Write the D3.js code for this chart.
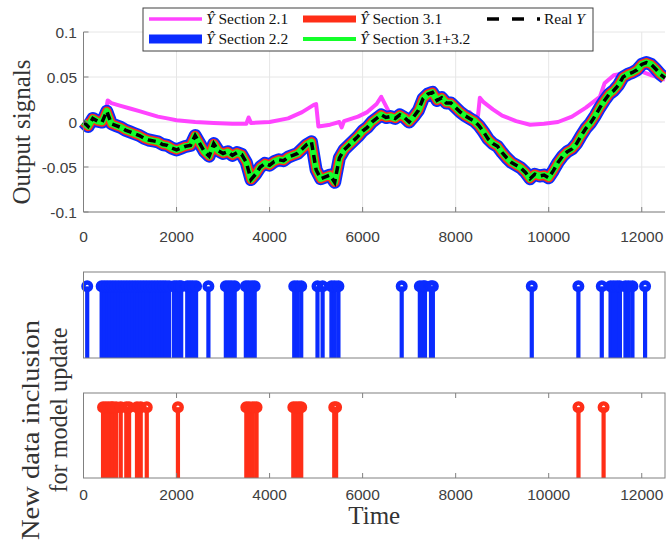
<!DOCTYPE html>
<html>
<head>
<meta charset="utf-8">
<script src="https://cdn.jsdelivr.net/npm/d3@7"></script>
<style>
  body { margin: 0; background: #fff; }
  text { font-family: "Liberation Sans", Arial, sans-serif; }
  .serif { font-family: "Liberation Serif", "Times New Roman", serif; }
</style>
</head>
<body>
<div id="chart"></div>
<script>
// sampled every 100 time units, 0 .. 12500
const STEP = 100;
const realY = [
  0.000, -0.005, 0.004, 0.001, 0.000, 0.012, -0.002, -0.004, -0.006, -0.009,
  -0.011, -0.013, -0.015, -0.018, -0.020, -0.021, -0.022, -0.025, -0.026, -0.029,
  -0.031, -0.029, -0.027, -0.026, -0.015, -0.024, -0.033, -0.038, -0.024, -0.032,
  -0.035, -0.033, -0.037, -0.034, -0.036, -0.045, -0.064, -0.058, -0.050, -0.046,
  -0.048, -0.044, -0.042, -0.043, -0.039, -0.037, -0.035, -0.030, -0.025, -0.022,
  -0.053, -0.063, -0.061, -0.059, -0.067, -0.040, -0.031, -0.026, -0.021, -0.016,
  -0.010, -0.006, 0.000, 0.004, 0.008, 0.005, 0.006, 0.004, 0.008, 0.005,
  0.000, 0.006, 0.013, 0.026, 0.031, 0.033, 0.024, 0.027, 0.021, 0.021,
  0.016, 0.011, 0.007, 0.004, 0.001, -0.004, -0.011, -0.019, -0.024, -0.027,
  -0.034, -0.040, -0.045, -0.048, -0.051, -0.056, -0.063, -0.058, -0.060, -0.059,
  -0.062, -0.054, -0.045, -0.038, -0.033, -0.030, -0.024, -0.015, -0.007, -0.001,
  0.007, 0.016, 0.024, 0.031, 0.035, 0.041, 0.050, 0.053, 0.055, 0.058,
  0.064, 0.066, 0.064, 0.059, 0.053, 0.049
];
// predictions of sections 2.2, 3.1 and 3.1+3.2 sit on top of the real output
const ySec22 = realY, ySec31 = realY, ySec3132 = realY;

// section 2.1 prediction (time, value)
const sec21T = [0, 200, 400, 480, 520, 600, 800, 1000, 1200, 1400, 1600, 1800, 2000, 2400, 2800,
  3200, 3500, 3550, 3600, 4000, 4400, 4700, 4950, 5000, 5050, 5300, 5500, 5550, 5600, 5900,
  6100, 6300, 6400, 6600, 6800, 7000, 7200, 7500, 7800, 8000, 8200, 8300, 8400, 8480, 8520, 8600,
  8800, 9000, 9300, 9600, 9900, 10200, 10500, 10800, 11100, 11200, 11400, 11700, 12000, 12200, 12500];
const sec21Y = [0.000, 0.004, 0.000, 0.012, 0.024, 0.021, 0.018, 0.015, 0.012, 0.009, 0.006, 0.004, 0.002, 0.000, -0.001,
  -0.002, -0.002, 0.005, -0.001, 0.000, 0.004, 0.011, 0.019, 0.020, -0.005, -0.003, 0.000, -0.006, 0.001, 0.006,
  0.011, 0.020, 0.028, 0.008, 0.008, 0.003, 0.012, 0.030, 0.020, 0.015, 0.009, 0.011, 0.005, 0.007, 0.027, 0.022,
  0.014, 0.007, 0.001, -0.003, -0.002, 0.000, 0.006, 0.016, 0.028, 0.043, 0.052, 0.055, 0.056, 0.052, 0.047];

// times where new data was included
const updates22 = [80, 390, 450, 510, 570, 630, 690, 750, 810, 870, 930, 990, 1050, 1110, 1170, 1230,
  1290, 1350, 1410, 1470, 1530, 1590, 1650, 1710, 1770, 1840, 1945, 2000, 2060, 2100,
  2230, 2290, 2350, 2420, 2685, 3060, 3120, 3180, 3250, 3490, 3550, 3620, 3680,
  4530, 4600, 4680, 5030, 5140, 5330, 5400, 5480, 6840, 7230, 7300, 7340, 7470, 7510,
  9636, 10638, 11141, 11330, 11400, 11470, 11530, 11650, 11720, 11800, 12072];
const updates31 = [420, 480, 540, 600, 630, 700, 800, 920, 980, 1150, 1230, 1360, 2030,
  3500, 3560, 3640, 3720, 4510, 4570, 4630, 4680, 5390, 5430, 10640, 11180];

const xTicks = [0, 2000, 4000, 6000, 8000, 10000, 12000];
const yTicks = [-0.1, -0.05, 0, 0.05, 0.1];
const legendItems = [
  { name: "Section 2.1", hat: true, color: "#ff44ff", w: 3.5 },
  { name: "Section 2.2", hat: true, color: "#0a2bff", w: 9 },
  { name: "Section 3.1", hat: true, color: "#ff2e17", w: 7 },
  { name: "Section 3.1+3.2", hat: true, color: "#14ff2a", w: 4 },
  { name: "Real ", hat: false, color: "#000", w: 3.5, dash: "12 13" }
];

const W = 666, H = 543;
const axisColor = "#808080", labelColor = "#404040", gridColor = "#e6e6e6";
const TICKFONT = 15.5;

const svg = d3.select("#chart").append("svg")
  .attr("width", W).attr("height", H);

const x = d3.scaleLinear().domain([0, 12500]).range([83.5, 665]);
const yTop = d3.scaleLinear().domain([-0.1, 0.1]).range([212, 32]);
const yMid = d3.scaleLinear().domain([0, 1.2]).range([358, 272]);
const yBot = d3.scaleLinear().domain([0, 1.2]).range([478, 393]);

// ---- top panel
const gTop = svg.append("g");
gTop.selectAll("line.vg").data(xTicks).join("line")
  .attr("x1", d => x(d)).attr("x2", d => x(d))
  .attr("y1", yTop(-0.1)).attr("y2", yTop(0.1))
  .attr("stroke", gridColor);
gTop.selectAll("line.hg").data(yTicks).join("line")
  .attr("x1", x(0)).attr("x2", x(12500))
  .attr("y1", d => yTop(d)).attr("y2", d => yTop(d))
  .attr("stroke", gridColor);

const lineReal = d3.line().x((d, i) => x(i * STEP)).y(d => yTop(d));
const line21 = d3.line().x((d, i) => x(sec21T[i])).y(d => yTop(d));

gTop.append("path").datum(sec21Y).attr("d", line21)
  .attr("fill", "none").attr("stroke", legendItems[0].color).attr("stroke-width", 4)
  .attr("stroke-linejoin", "round");
[[ySec22, 1, 13], [ySec31, 2, 9.5], [ySec3132, 3, 6.5]].forEach(([s, k, w]) => {
  gTop.append("path").datum(s).attr("d", lineReal)
    .attr("fill", "none").attr("stroke", legendItems[k].color).attr("stroke-width", w)
    .attr("stroke-linejoin", "round");
});
gTop.append("path").datum(realY).attr("d", lineReal)
  .attr("fill", "none").attr("stroke", "#000").attr("stroke-width", 3.5)
  .attr("stroke-dasharray", "8 5");

// axes
gTop.append("line").attr("x1", x(0)).attr("x2", x(0)).attr("y1", yTop(0.1)).attr("y2", yTop(-0.1))
  .attr("stroke", axisColor);
gTop.append("line").attr("x1", x(0)).attr("x2", x(12500)).attr("y1", yTop(-0.1)).attr("y2", yTop(-0.1))
  .attr("stroke", axisColor);
gTop.selectAll("line.xt").data(xTicks).join("line")
  .attr("x1", d => x(d)).attr("x2", d => x(d))
  .attr("y1", yTop(-0.1)).attr("y2", yTop(-0.1) - 5).attr("stroke", axisColor);
gTop.selectAll("line.yt").data(yTicks).join("line")
  .attr("x1", x(0)).attr("x2", x(0) + 5)
  .attr("y1", d => yTop(d)).attr("y2", d => yTop(d)).attr("stroke", axisColor);
gTop.selectAll("text.xl").data(xTicks).join("text")
  .attr("x", d => x(d)).attr("y", 242).attr("text-anchor", "middle")
  .attr("font-size", TICKFONT).attr("fill", labelColor).text(d => d);
gTop.selectAll("text.yl").data(yTicks).join("text")
  .attr("x", 77).attr("y", d => yTop(d) + 5.5).attr("text-anchor", "end")
  .attr("font-size", TICKFONT).attr("fill", labelColor).text(d => d);

svg.append("text").attr("class", "serif")
  .attr("transform", `translate(30, 132) rotate(-90)`)
  .attr("text-anchor", "middle").attr("font-size", 25).attr("fill", "#333")
  .attr("textLength", 145).attr("lengthAdjust", "spacingAndGlyphs")
  .text("Output signals");

// ---- stem panels
function stemPanel(y, times, color, ticks) {
  const g = svg.append("g");
  g.selectAll("line.stem").data(times).join("line")
    .attr("x1", d => x(d)).attr("x2", d => x(d))
    .attr("y1", y(0)).attr("y2", y(1))
    .attr("stroke", color).attr("stroke-width", 4.2);
  g.selectAll("circle").data(times).join("circle")
    .attr("cx", d => x(d)).attr("cy", y(1)).attr("r", 3.8)
    .attr("fill", "none").attr("stroke", color).attr("stroke-width", 4.4);
  g.append("rect")
    .attr("x", x(0)).attr("y", y(1.2))
    .attr("width", x(12500) - x(0)).attr("height", y(0) - y(1.2))
    .attr("fill", "none").attr("stroke", axisColor);
  if (ticks) {
    g.selectAll("line.bt").data(xTicks).join("line")
      .attr("x1", d => x(d)).attr("x2", d => x(d))
      .attr("y1", y(0)).attr("y2", y(0) - 5).attr("stroke", axisColor);
    g.selectAll("line.tt").data(xTicks).join("line")
      .attr("x1", d => x(d)).attr("x2", d => x(d))
      .attr("y1", y(1.2)).attr("y2", y(1.2) + 5).attr("stroke", axisColor);
    g.selectAll("text").data(xTicks).join("text")
      .attr("x", d => x(d)).attr("y", 500).attr("text-anchor", "middle")
      .attr("font-size", TICKFONT).attr("fill", labelColor).text(d => d);
  }
}
stemPanel(yMid, updates22, legendItems[1].color, false);
stemPanel(yBot, updates31, legendItems[2].color, true);

svg.append("text").attr("class", "serif")
  .attr("x", x(6250)).attr("y", 524).attr("text-anchor", "middle")
  .attr("font-size", 25).attr("fill", "#333").text("Time");

// two-line label, ends aligned toward the top
svg.append("text").attr("class", "serif")
  .attr("transform", `translate(39, 540) rotate(-90)`)
  .attr("font-size", 25).attr("fill", "#333")
  .attr("textLength", 220).attr("lengthAdjust", "spacingAndGlyphs")
  .text("New data inclusion");
svg.append("text").attr("class", "serif")
  .attr("transform", `translate(67, 410) rotate(-90)`)
  .attr("text-anchor", "middle").attr("font-size", 25).attr("fill", "#333")
  .attr("textLength", 165).attr("lengthAdjust", "spacingAndGlyphs")
  .text("for model update");

// ---- legend
const leg = svg.append("g");
leg.append("rect").attr("x", 143).attr("y", 8).attr("width", 450).attr("height", 43)
  .attr("fill", "#fff").attr("stroke", "#404040");
const legPos = [[149, 19], [149, 39], [303, 19], [303, 39], [487, 19]];
legendItems.forEach((it, i) => {
  const [lx, ly] = legPos[i];
  leg.append("line").attr("x1", lx).attr("x2", lx + 53).attr("y1", ly).attr("y2", ly)
    .attr("stroke", it.color).attr("stroke-width", it.w)
    .attr("stroke-dasharray", it.dash || null);
  const t = leg.append("text").attr("class", "serif")
    .attr("x", lx + 57).attr("y", ly + 5).attr("font-size", 15.5).attr("fill", "#111");
  if (it.hat) {
    t.append("tspan").attr("font-style", "italic").text("Ŷ");
    t.append("tspan").text(" " + it.name);
  } else {
    t.append("tspan").text(it.name);
    t.append("tspan").attr("font-style", "italic").text("Y");
  }
});
</script>
</body>
</html>
